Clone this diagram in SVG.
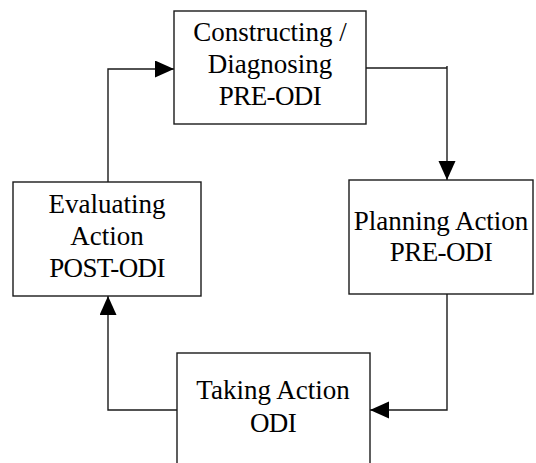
<svg xmlns="http://www.w3.org/2000/svg" width="536" height="463" viewBox="0 0 536 463">
<style>
.box{fill:#fff;stroke:#1a1a1a;stroke-width:1.4}
.lbl{font-family:"Liberation Serif","Times New Roman",serif;font-size:27px;fill:#000;text-anchor:middle}
.tight{letter-spacing:-0.6px}
.conn{fill:none;stroke:#1a1a1a;stroke-width:1.4}
</style>
<defs>
<marker id="arr" markerUnits="userSpaceOnUse" markerWidth="20" markerHeight="18" refX="19" refY="8.5" orient="auto">
<path d="M0,0 L19,8.5 L0,17 Z" fill="#000"/>
</marker>
</defs>
<rect width="536" height="463" fill="#fff"/>
<g id="connectors">
<path class="conn" d="M108,182 V69 H174" marker-end="url(#arr)"/>
<path class="conn" d="M364,68 H447"/>
<path class="conn" d="M447,66 V180" marker-end="url(#arr)"/>
<path class="conn" d="M447,291 V410 H370" marker-end="url(#arr)"/>
<path class="conn" d="M177,410 H108 V296" marker-end="url(#arr)"/>
</g>
<g id="constructing">
<rect class="box" x="174" y="11" width="192" height="113"/>
<text class="lbl" x="270" y="41">Constructing /</text>
<text class="lbl" x="270" y="73">Diagnosing</text>
<text class="lbl tight" x="270" y="105">PRE-ODI</text>
</g>
<g id="planning">
<rect class="box" x="349" y="180" width="184" height="114"/>
<text class="lbl" x="441" y="230">Planning Action</text>
<text class="lbl tight" x="441" y="261">PRE-ODI</text>
</g>
<g id="taking">
<rect class="box" x="177" y="353" width="193" height="120"/>
<text class="lbl" x="273" y="399">Taking Action</text>
<text class="lbl tight" x="273" y="432">ODI</text>
</g>
<g id="evaluating">
<rect class="box" x="13" y="182" width="188" height="114"/>
<text class="lbl" x="107" y="213">Evaluating</text>
<text class="lbl" x="107" y="245">Action</text>
<text class="lbl tight" x="107" y="277">POST-ODI</text>
</g>
</svg>
